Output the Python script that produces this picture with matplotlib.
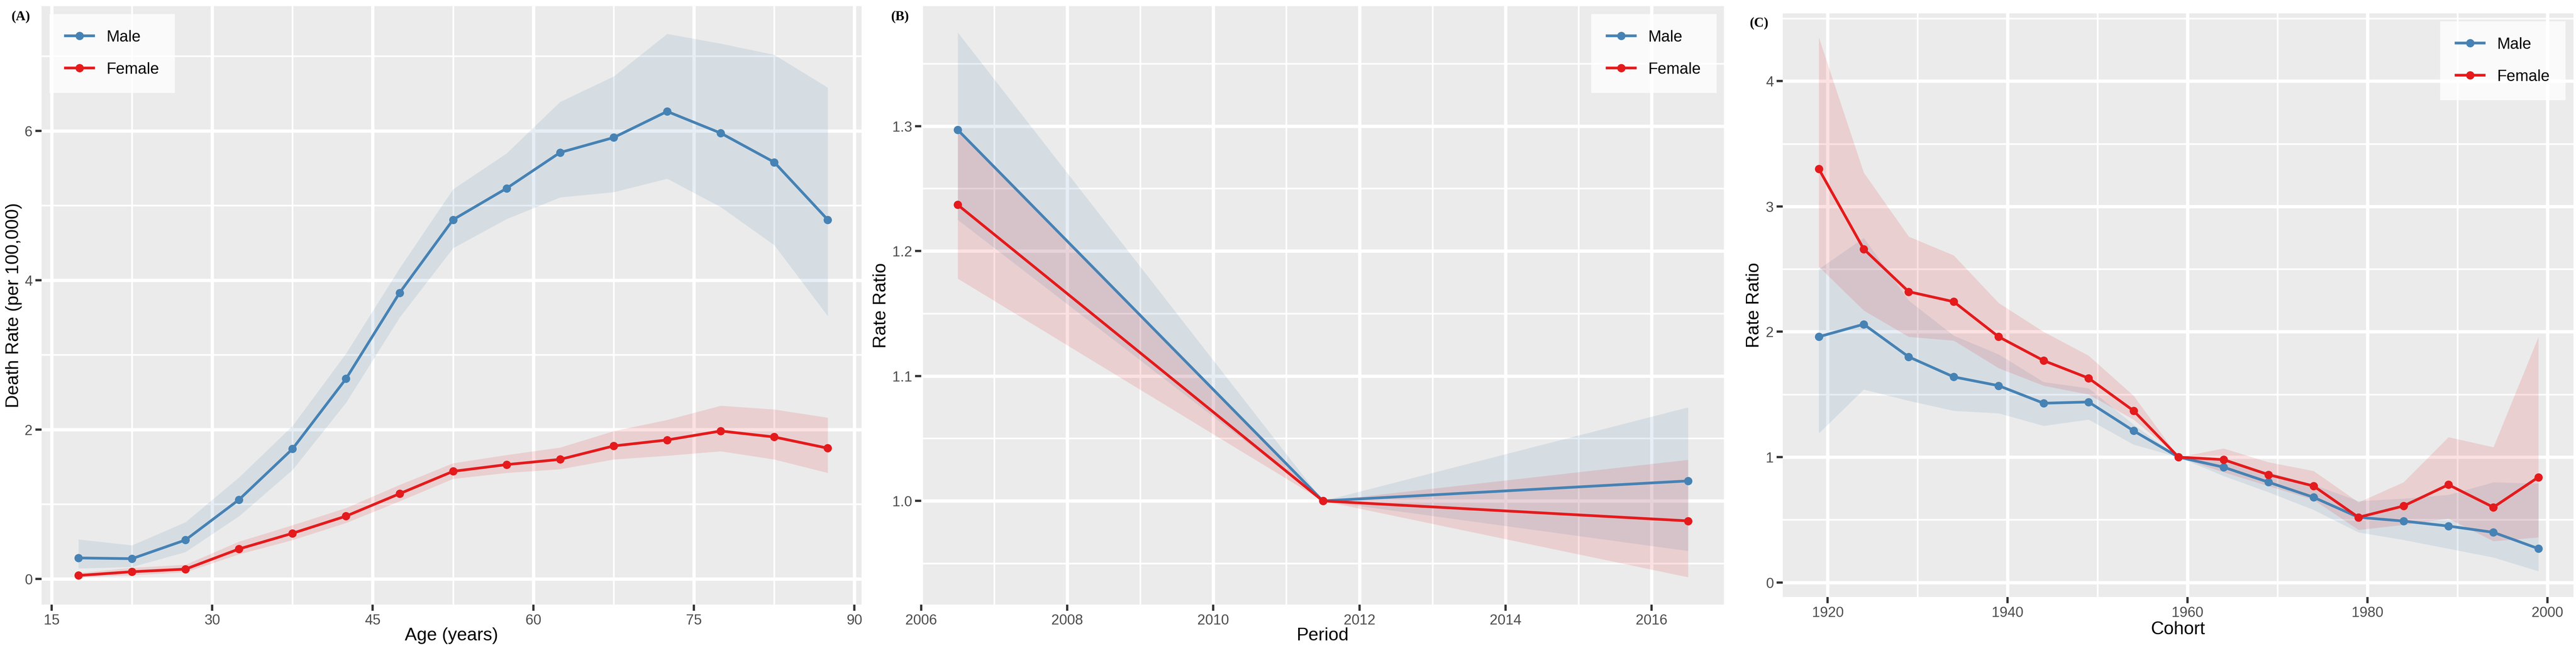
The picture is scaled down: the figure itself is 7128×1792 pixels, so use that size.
import numpy as np
import matplotlib
matplotlib.use("Agg")
import matplotlib.pyplot as plt
from matplotlib import font_manager
from matplotlib.ticker import MultipleLocator, FormatStrFormatter

names = {f.name for f in font_manager.fontManager.ttflist}
NARROW = "Liberation Sans Narrow" if "Liberation Sans Narrow" in names else "Liberation Sans"
SANS = "Liberation Sans"

MALE = "#4682B4"
FEMALE = "#E41A1C"
BG = "#EBEBEB"

# ── Panel A: age effect ──────────────────────────────────────────────────────
age = [17.5, 22.5, 27.5, 32.5, 37.5, 42.5, 47.5, 52.5, 57.5, 62.5, 67.5, 72.5, 77.5, 82.5, 87.5]
age_m = [0.28, 0.27, 0.52, 1.06, 1.74, 2.68, 3.83, 4.81, 5.23, 5.71, 5.91, 6.26, 5.97, 5.58, 4.81]
age_m_hi = [0.53, 0.45, 0.76, 1.36, 2.05, 3.02, 4.16, 5.22, 5.70, 6.39, 6.73, 7.30, 7.17, 7.02, 6.58]
age_m_lo = [0.14, 0.16, 0.36, 0.84, 1.46, 2.36, 3.50, 4.43, 4.82, 5.11, 5.18, 5.36, 4.98, 4.47, 3.52]
age_f = [0.045, 0.095, 0.13, 0.40, 0.61, 0.84, 1.14, 1.44, 1.53, 1.60, 1.78, 1.86, 1.98, 1.90, 1.75]
age_f_hi = [0.08, 0.15, 0.19, 0.50, 0.72, 0.95, 1.26, 1.55, 1.66, 1.76, 1.98, 2.13, 2.32, 2.27, 2.16]
age_f_lo = [0.02, 0.05, 0.09, 0.33, 0.52, 0.75, 1.04, 1.34, 1.42, 1.47, 1.60, 1.65, 1.71, 1.60, 1.42]

# ── Panel B: period effect ───────────────────────────────────────────────────
period = [2006.5, 2011.5, 2016.5]
per_m = [1.297, 1.0, 1.016]
per_m_hi = [1.375, 1.0, 1.075]
per_m_lo = [1.225, 1.0, 0.960]
per_f = [1.237, 1.0, 0.984]
per_f_hi = [1.297, 1.0, 1.033]
per_f_lo = [1.178, 1.0, 0.939]

# ── Panel C: cohort effect ───────────────────────────────────────────────────
cohort = [1919, 1924, 1929, 1934, 1939, 1944, 1949, 1954, 1959, 1964, 1969, 1974, 1979, 1984, 1989, 1994, 1999]
coh_m = [1.96, 2.06, 1.80, 1.64, 1.57, 1.43, 1.44, 1.21, 1.0, 0.92, 0.80, 0.68, 0.52, 0.49, 0.45, 0.40, 0.27]
coh_m_hi = [2.50, 2.75, 2.25, 1.97, 1.82, 1.60, 1.55, 1.26, 1.0, 0.97, 0.88, 0.78, 0.65, 0.67, 0.70, 0.80, 0.79]
coh_m_lo = [1.19, 1.54, 1.45, 1.37, 1.35, 1.25, 1.30, 1.10, 1.0, 0.85, 0.72, 0.58, 0.40, 0.34, 0.27, 0.20, 0.09]
coh_f = [3.30, 2.66, 2.32, 2.24, 1.96, 1.77, 1.63, 1.37, 1.0, 0.98, 0.86, 0.77, 0.52, 0.61, 0.78, 0.60, 0.84]
coh_f_hi = [4.35, 3.27, 2.76, 2.61, 2.23, 2.00, 1.81, 1.49, 1.0, 1.07, 0.96, 0.89, 0.64, 0.80, 1.16, 1.08, 1.96]
coh_f_lo = [2.52, 2.17, 1.96, 1.93, 1.71, 1.57, 1.50, 1.30, 1.0, 0.88, 0.77, 0.66, 0.42, 0.46, 0.51, 0.33, 0.36]


def panel(ax, x, m, m_lo, m_hi, f, f_lo, f_hi, xlabel, ylabel, xmaj, ymaj,
          legend_loc, xlab_y, ylab_x):
    ax.set_facecolor(BG)
    for sp in ax.spines.values():
        sp.set_visible(False)
    ax.xaxis.set_major_locator(MultipleLocator(xmaj))
    ax.xaxis.set_minor_locator(MultipleLocator(xmaj / 2))
    ax.yaxis.set_major_locator(MultipleLocator(ymaj))
    ax.yaxis.set_minor_locator(MultipleLocator(ymaj / 2))
    ax.grid(which="major", color="white", lw=2.2)
    ax.grid(which="minor", color="white", lw=1.1)
    ax.set_axisbelow(True)
    ax.tick_params(which="major", length=4, width=1.5, color="#333333", pad=2,
                   labelsize=9.5, labelcolor="#4D4D4D")
    ax.tick_params(which="minor", length=0)
    for lab in ax.get_xticklabels() + ax.get_yticklabels():
        lab.set_fontfamily(NARROW)
    ax.fill_between(x, m_lo, m_hi, color=MALE, alpha=0.13, lw=0)
    ax.fill_between(x, f_lo, f_hi, color=FEMALE, alpha=0.13, lw=0)
    ax.plot(x, m, "o-", color=MALE, lw=1.8, ms=4.5, label="Male")
    ax.plot(x, f, "o-", color=FEMALE, lw=1.8, ms=4.5, label="Female")
    ax.set_xlabel(xlabel, fontsize=12, fontfamily=NARROW, va="center")
    ax.set_ylabel(ylabel, fontsize=12, fontfamily=SANS, va="center")
    ax.xaxis.set_label_coords(0.5, xlab_y)
    ax.yaxis.set_label_coords(ylab_x, 0.5)
    leg = ax.legend(loc=legend_loc, fontsize=10.5, frameon=True, fancybox=False,
                    borderpad=1.0, labelspacing=1.1, handlelength=1.8)
    leg.get_frame().set_edgecolor("white")
    leg.get_frame().set_linewidth(0)
    for t in leg.get_texts():
        t.set_fontfamily(NARROW)


W, H = 7128, 1792
fig = plt.figure(figsize=(W / 300, H / 300), dpi=300)

axA = fig.add_axes([115 / W, 120 / H, 2269 / W, 1655 / H])
panel(axA, age, age_m, age_m_lo, age_m_hi, age_f, age_f_lo, age_f_hi,
      "Age (years)", "Death Rate (per 100,000)", 15, 2, "upper left", -0.052, -0.034)
axA.set_xlim(14.06, 90.66)
axA.set_ylim(-0.345, 7.67)

axB = fig.add_axes([2549 / W, 120 / H, 2223 / W, 1655 / H])
panel(axB, period, per_m, per_m_lo, per_m_hi, per_f, per_f_lo, per_f_hi,
      "Period", "Rate Ratio", 2, 0.1, "upper right", -0.052, -0.050)
axB.set_xlim(2006.0, 2017.0)
axB.set_ylim(0.917, 1.396)
axB.yaxis.set_major_formatter(FormatStrFormatter("%.1f"))

axC = fig.add_axes([4933 / W, 141 / H, 2188 / W, 1614 / H])
panel(axC, cohort, coh_m, coh_m_lo, coh_m_hi, coh_f, coh_f_lo, coh_f_hi,
      "Cohort", "Rate Ratio", 20, 1, "upper right", -0.056, -0.036)
axC.set_xlim(1915.0, 2002.9)
axC.set_ylim(-0.116, 4.54)

lab = dict(fontsize=9, fontweight="bold", fontfamily="Liberation Serif", va="center")
fig.text(31 / W, 1 - 46 / H, "(A)", **lab)
fig.text(2465 / W, 1 - 46 / H, "(B)", **lab)
fig.text(4841 / W, 1 - 64 / H, "(C)", **lab)

fig.savefig("out.png", dpi=300, facecolor="white")
